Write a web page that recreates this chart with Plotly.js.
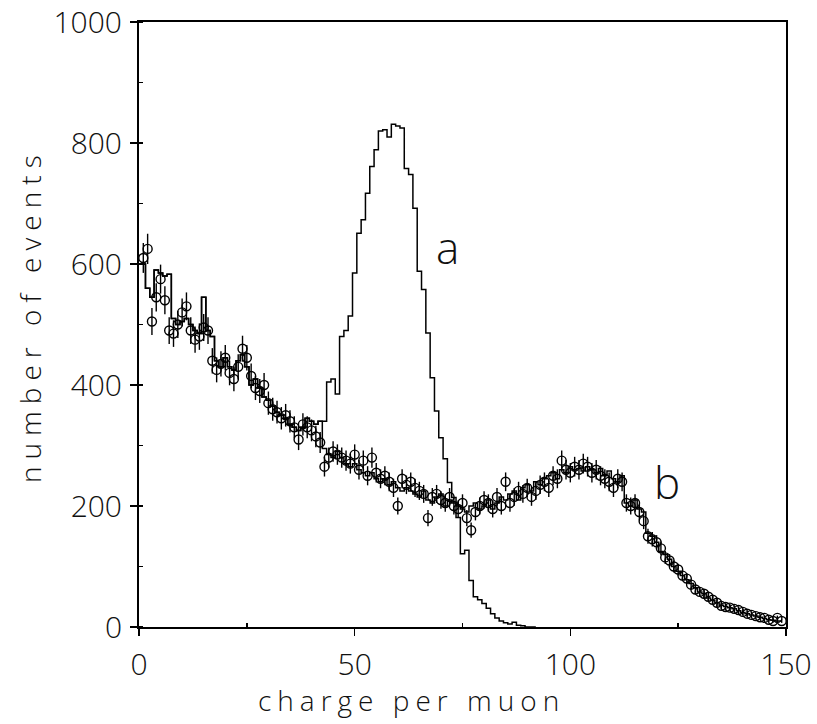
<!DOCTYPE html>
<html>
<head>
<meta charset="utf-8">
<script src="https://cdn.plot.ly/plotly-3.0.1.min.js"></script>
<style>html,body{margin:0;padding:0;background:#fff;}#chart{width:817px;height:724px;}</style>
</head>
<body>
<div id="chart"></div>
<script>
// bin centres (charge per muon)
const binX = Array.from({length: 149}, (_, i) => i + 1);

// measured data (points with error bars)
const dataB = [
 610,625,505,545,575,540,490,485,500,520,
 530,490,475,480,495,490,440,425,435,445,
 420,410,430,460,445,415,395,390,400,370,
 360,355,345,350,340,330,310,335,330,325,
 315,305,265,280,290,285,280,275,270,285,
 260,275,250,280,255,245,250,240,230,200,
 245,235,240,230,225,220,180,215,220,210,
 205,215,200,195,205,180,160,190,200,210,
 205,195,215,200,240,205,215,225,220,230,
 215,225,235,240,230,250,245,275,260,255,
 265,260,270,265,255,260,250,245,240,230,
 245,240,205,200,205,190,175,150,145,140,
 130,115,110,100,95,85,80,70,62,58,
 55,50,45,40,35,33,32,30,28,25,
 22,20,18,16,15,12,10,15,10
];

// simulated histogram b (full range)
const mcB = [
 600,560,545,590,585,580,583,510,500,505,
 510,500,490,485,545,490,480,440,430,445,
 430,425,440,450,430,400,410,395,380,375,
 365,355,350,345,335,330,325,330,345,340,
 335,340,295,285,280,290,280,270,265,270,
 260,255,250,255,245,240,245,235,240,230,
 225,230,225,220,215,225,210,205,215,220,
 200,210,205,200,195,190,200,205,195,200,
 210,195,205,215,210,220,225,210,230,235,
 225,240,235,245,250,255,245,260,255,265,
 260,262,258,265,260,255,262,250,258,245,
 240,250,205,200,210,195,190,155,150,140,
 125,120,112,100,92,85,78,72,65,58,
 55,48,44,40,36,34,32,30,27,24,
 22,20,18,16,14,12,11,10,10
];

// simulated histogram a: shares bins 1..42 with b, then the peak part (bins 43..92)
const mcAPeak = [
 340,405,410,385,480,490,514,585,651,673,
 717,761,789,820,822,810,831,828,825,758,
 748,692,588,558,486,412,357,313,278,239,
 214,181,121,127,77,50,45,39,31,22,
 15,10,7,5,8,3,2,0,0,0
];
const mcA = mcB.slice(0, 42).concat(mcAPeak);
const mcAX = binX.slice(0, mcA.length);

const curveLabels = [{t: 'a', x: 71.5, y: 628}, {t: 'b', x: 122.5, y: 240}];
const xTitle = 'charge per muon';
const yTitle = 'number of events';

const fontFam = '"Open Sans", "DejaVu Sans", sans-serif';

const traces = [
 {x: mcAX, y: mcA, type: 'scatter', mode: 'lines', line: {shape: 'hvh', color: '#000', width: 1.5}, hoverinfo: 'skip'},
 {x: binX, y: mcB, type: 'scatter', mode: 'lines', line: {shape: 'hvh', color: '#000', width: 1.5}, hoverinfo: 'skip'},
 {x: binX, y: dataB, type: 'scatter', mode: 'markers',
  marker: {symbol: 'circle-open', size: 9, color: '#000', line: {width: 1.4, color: '#000'}},
  error_y: {type: 'sqrt', visible: true, color: '#000', thickness: 1.4, width: 0}}
];

const tickFont = {size: 30, family: fontFam, weight: 300, color: '#111'};
const titleFont = {size: 28, family: fontFam, weight: 300, color: '#111'};

const layout = {
 width: 817, height: 724,
 margin: {l: 139, r: 31, t: 22, b: 97},
 paper_bgcolor: '#fff', plot_bgcolor: '#fff',
 showlegend: false,
 font: {family: fontFam, color: '#000', weight: 300},
 xaxis: {
  range: [0, 150], tickvals: [0, 50, 100, 150], ticks: 'outside', ticklen: 7, tickwidth: 1.5, tickcolor: '#000',
  showline: true, linecolor: '#000', linewidth: 2, mirror: true, showgrid: false, zeroline: false,
  tickfont: tickFont, ticklabelstandoff: 3, ticklabeloverflow: 'allow',
  minor: {tickvals: [25, 75, 125], ticks: 'inside', ticklen: 4, tickcolor: '#000', showgrid: false}
 },
 yaxis: {
  range: [0, 1000], tickvals: [0, 200, 400, 600, 800, 1000], ticks: 'outside', ticklen: 7, tickwidth: 1.5, tickcolor: '#000',
  showline: true, linecolor: '#000', linewidth: 2, mirror: true, showgrid: false, zeroline: false,
  tickfont: tickFont, ticklabeloverflow: 'allow', ticklabelstandoff: 2,
  minor: {dtick: 100, ticks: 'inside', ticklen: 4, tickcolor: '#000', showgrid: false}
 },
 annotations: curveLabels.map(c => ({x: c.x, y: c.y, xref: 'x', yref: 'y', text: c.t, showarrow: false,
   font: {size: 44, family: fontFam, weight: 300, color: '#111'}})).concat([
   {x: 411, y: 700, xref: 'paper', yref: 'paper', xanchor: 'center', yanchor: 'middle',
    text: '<span style="letter-spacing:6px">' + xTitle + '</span>', showarrow: false, font: titleFont},
   {x: 30, y: 316, xref: 'paper', yref: 'paper', xanchor: 'center', yanchor: 'middle',
    text: '<span style="letter-spacing:7px">' + yTitle + '</span>', showarrow: false, textangle: -90, font: titleFont}
 ])
};
// convert pixel positions of the titles into paper fractions
layout.annotations.forEach(a => {
  if (a.xref === 'paper') {
    a.x = (a.x - layout.margin.l) / (817 - layout.margin.l - layout.margin.r);
    a.y = (724 - layout.margin.b - a.y) / (724 - layout.margin.t - layout.margin.b);
  }
});

Plotly.newPlot('chart', traces, layout, {displayModeBar: false, staticPlot: true});
</script>
</body>
</html>
